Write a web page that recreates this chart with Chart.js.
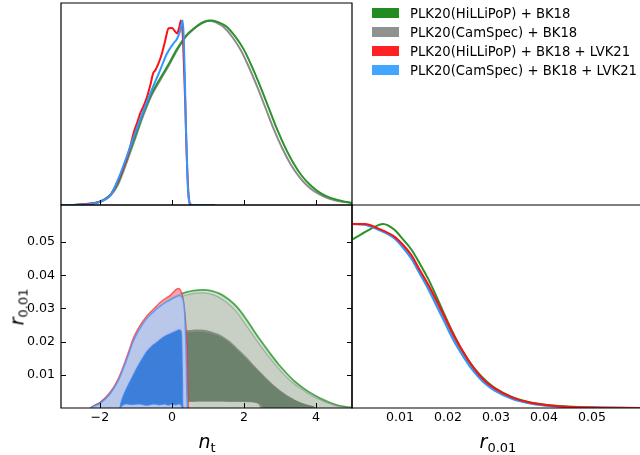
<!DOCTYPE html>
<html><head><meta charset="utf-8">
<script src="https://cdn.jsdelivr.net/npm/chart.js@4.4.1/dist/chart.umd.min.js"></script>
<style>
html,body{margin:0;padding:0;background:#fff;}
#wrap{position:relative;width:640px;height:455px;overflow:hidden;font-family:'DejaVu Sans',sans-serif;color:#000;}
canvas{position:absolute;left:0;top:0;}
.lab{position:absolute;white-space:nowrap;font-size:19px;line-height:1;}
.lab i{font-style:italic;}
.lab .sb{font-size:13px;position:relative;top:4px;}
.legrow{position:absolute;left:372px;height:19px;display:flex;align-items:center;font-size:13.2px;white-space:nowrap;}
.legrow .pt{width:27px;height:10px;margin-right:11px;}
</style></head>
<body>
<div id="wrap">
<canvas id="cTL" width="640" height="455"></canvas>
<canvas id="cBL" width="640" height="455"></canvas>
<canvas id="cBR" width="640" height="455"></canvas>
<div class="lab" style="left:207px;top:441px;transform:translate(-50%,-50%)"><i>n</i><span class="sb">t</span></div>
<div class="lab" style="left:498px;top:441px;transform:translate(-50%,-50%)"><i>r</i><span class="sb">0.01</span></div>
<div class="lab" style="left:17px;top:307px;transform:translate(-50%,-50%) rotate(-90deg)"><i>r</i><span class="sb">0.01</span></div>
</div>
<script>
// ---------- data ----------
const SERIES = ['PLK20(HiLLiPoP) + BK18', 'PLK20(CamSpec) + BK18', 'PLK20(HiLLiPoP) + BK18 + LVK21', 'PLK20(CamSpec) + BK18 + LVK21'];
const NT_TICKS = [-2, 0, 2, 4];
const R_TICKS = [0.01, 0.02, 0.03, 0.04, 0.05];

// 1D marginal of n_t  [n_t, P/Pmax]
const NT_HIL_BK = [[-3.08,0],[-2.6,0.002],[-2.2,0.008],[-1.9,0.028],[-1.7,0.058],[-1.5,0.12],[-1.25,0.25],[-1.0,0.385],[-0.79,0.5],[-0.55,0.61],[-0.33,0.685],[-0.1,0.76],[0.14,0.845],[0.4,0.92],[0.6,0.955],[0.85,0.988],[1.1,1.0],[1.3,0.99],[1.53,0.965],[1.75,0.915],[1.99,0.845],[2.2,0.76],[2.45,0.645],[2.7,0.52],[2.91,0.415],[3.15,0.31],[3.38,0.225],[3.6,0.16],[3.84,0.108],[4.05,0.074],[4.3,0.047],[4.6,0.027],[4.8,0.018],[5.0,0.012]];
const NT_CAM_BK = [[-3.08,0],[-2.6,0.002],[-2.2,0.007],[-1.9,0.025],[-1.7,0.052],[-1.5,0.11],[-1.25,0.235],[-1.0,0.372],[-0.79,0.488],[-0.55,0.6],[-0.33,0.675],[-0.1,0.752],[0.14,0.838],[0.4,0.915],[0.6,0.952],[0.8,0.985],[1.02,1.0],[1.22,0.99],[1.45,0.962],[1.67,0.912],[1.91,0.84],[2.12,0.755],[2.37,0.64],[2.62,0.515],[2.83,0.41],[3.07,0.305],[3.3,0.22],[3.52,0.157],[3.76,0.104],[3.97,0.072],[4.22,0.046],[4.52,0.026],[4.75,0.017],[5.0,0.011]];
const NT_HIL_BK_LVK = [[-3.08,0],[-2.6,0.002],[-2.2,0.01],[-1.99,0.018],[-1.71,0.054],[-1.53,0.118],[-1.43,0.16],[-1.34,0.208],[-1.25,0.255],[-1.16,0.316],[-1.05,0.4],[-0.97,0.443],[-0.88,0.497],[-0.79,0.535],[-0.69,0.587],[-0.6,0.65],[-0.52,0.715],[-0.46,0.73],[-0.4,0.755],[-0.33,0.79],[-0.28,0.82],[-0.2,0.88],[-0.09,0.958],[0.0,0.96],[0.07,0.945],[0.14,0.93],[0.2,0.96],[0.25,1.0],[0.3,0.92],[0.34,0.72],[0.37,0.55],[0.4,0.33],[0.43,0.17],[0.46,0.06],[0.5,0.005],[0.55,0],[0.7,0]];
const NT_CAM_BK_LVK = [[-3.08,0],[-2.6,0.002],[-2.2,0.007],[-1.9,0.026],[-1.7,0.055],[-1.43,0.17],[-1.25,0.265],[-1.06,0.37],[-0.79,0.51],[-0.6,0.605],[-0.33,0.73],[-0.14,0.82],[0.04,0.875],[0.14,0.9],[0.22,0.94],[0.3,1.0],[0.33,0.9],[0.36,0.68],[0.39,0.42],[0.42,0.22],[0.45,0.07],[0.49,0.012],[0.53,0.002],[0.6,0],[1.2,0]];

// 1D marginal of r_0.01  [r, P/Pmax]
const R_HIL_BK = [[0,0.915],[0.002,0.945],[0.004,0.975],[0.0065,1.0],[0.0089,0.967],[0.0105,0.92],[0.0124,0.86],[0.014,0.79],[0.0159,0.7],[0.0177,0.6],[0.0194,0.5],[0.021,0.41],[0.0228,0.32],[0.0245,0.25],[0.0263,0.19],[0.028,0.145],[0.0298,0.108],[0.0333,0.06],[0.0368,0.033],[0.0403,0.018],[0.044,0.009],[0.0472,0.005],[0.052,0.002],[0.06,0.0005]];
const R_CAM_BK = [[0,1.0],[0.0027,0.997],[0.0054,0.973],[0.0089,0.925],[0.0105,0.882],[0.0124,0.82],[0.014,0.745],[0.0159,0.657],[0.0177,0.565],[0.0194,0.475],[0.021,0.39],[0.0228,0.307],[0.0245,0.238],[0.0263,0.178],[0.028,0.133],[0.0298,0.099],[0.0333,0.054],[0.0368,0.028],[0.0403,0.014],[0.044,0.007],[0.0472,0.0035],[0.052,0.001],[0.06,0.0002]];
const R_HIL_BK_LVK = [[0,1.0],[0.0027,1.0],[0.0054,0.976],[0.0089,0.93],[0.0105,0.89],[0.0124,0.83],[0.014,0.755],[0.0159,0.67],[0.0177,0.58],[0.0194,0.49],[0.021,0.405],[0.0228,0.32],[0.0245,0.25],[0.0263,0.186],[0.028,0.14],[0.0298,0.105],[0.0333,0.058],[0.0368,0.031],[0.0403,0.016],[0.044,0.008],[0.0472,0.004],[0.052,0.0015],[0.06,0.0003]];
const R_CAM_BK_LVK = [[0,1.0],[0.0027,0.995],[0.0054,0.97],[0.0089,0.92],[0.0105,0.875],[0.0124,0.81],[0.014,0.735],[0.0159,0.645],[0.0177,0.55],[0.0194,0.46],[0.021,0.375],[0.0228,0.295],[0.0245,0.228],[0.0263,0.17],[0.028,0.126],[0.0298,0.093],[0.0333,0.05],[0.0368,0.026],[0.0403,0.013],[0.044,0.006],[0.0472,0.003],[0.052,0.001],[0.06,0.0002]];

// 2D contours (n_t, r_0.01), closed outlines; 95% (outer) and 68% (inner)
const C95_HIL_BK = [[-2.3,-0.0005],[-2.2,0.0003],[-1.95,0.002],[-1.71,0.0044],[-1.5,0.0078],[-1.34,0.0112],[-1.2,0.0152],[-1.07,0.0198],[-0.9,0.0234],[-0.69,0.0266],[-0.5,0.0287],[-0.33,0.0304],[-0.1,0.0325],[0.14,0.0339],[0.4,0.0349],[0.6,0.0354],[0.88,0.0356],[1.1,0.0353],[1.34,0.0344],[1.58,0.0327],[1.81,0.0304],[2.05,0.027],[2.27,0.0234],[2.5,0.0198],[2.73,0.0164],[2.96,0.0132],[3.19,0.0104],[3.42,0.0079],[3.66,0.0059],[3.9,0.0042],[4.12,0.0029],[4.35,0.0018],[4.58,0.0009],[4.8,0.0004],[5.0,0.0001],[5.1,-0.0005]];
const C95_CAM_BK = [[-2.3,-0.0005],[-2.18,0.0003],[-1.93,0.002],[-1.69,0.0043],[-1.48,0.0076],[-1.32,0.0109],[-1.18,0.0148],[-1.05,0.0192],[-0.88,0.0228],[-0.68,0.0259],[-0.5,0.0279],[-0.33,0.0296],[-0.1,0.0316],[0.14,0.033],[0.38,0.034],[0.58,0.0345],[0.84,0.0347],[1.05,0.0344],[1.28,0.0335],[1.52,0.0318],[1.75,0.0295],[1.98,0.0262],[2.2,0.0227],[2.43,0.0192],[2.66,0.0159],[2.89,0.0128],[3.12,0.01],[3.35,0.0076],[3.59,0.0057],[3.83,0.004],[4.05,0.0028],[4.28,0.0017],[4.52,0.0008],[4.75,0.0003],[4.95,0.0001],[5.1,-0.0005]];
const C68_HIL_BK = [[-1.45,0.0015],[-1.35,0.005],[-1.2,0.009],[-0.97,0.0125],[-0.69,0.016],[-0.42,0.0188],[-0.14,0.021],[0.14,0.0222],[0.46,0.0228],[0.7,0.023],[0.88,0.0229],[1.1,0.0224],[1.34,0.0215],[1.58,0.0198],[1.81,0.0175],[2.05,0.015],[2.27,0.0125],[2.5,0.01],[2.73,0.0075],[2.96,0.0054],[3.19,0.0036],[3.4,0.0024],[3.6,0.0015],[3.8,0.0008],[3.95,0.0004],[4.0,-0.0005],[2.6,-0.0005],[2.45,0.0012],[2.2,0.0019],[1.8,0.002],[1.3,0.0021],[0.8,0.0021],[0.4,0.002],[0,0.0018],[-0.5,0.0016],[-1.0,0.0015]];
const C68_CAM_BK = [[-1.45,0.0015],[-1.36,0.0055],[-1.2,0.0097],[-0.97,0.0132],[-0.69,0.0167],[-0.42,0.0195],[-0.14,0.0217],[0.14,0.0229],[0.46,0.0235],[0.7,0.0237],[0.88,0.0236],[1.1,0.0231],[1.34,0.0221],[1.58,0.0204],[1.81,0.0181],[2.05,0.0156],[2.27,0.013],[2.5,0.0104],[2.73,0.0079],[2.96,0.0057],[3.19,0.0039],[3.4,0.0026],[3.6,0.0016],[3.8,0.0009],[3.95,0.0004],[4.0,-0.0005],[2.5,-0.0005],[2.4,0.0012],[2.2,0.0017],[1.8,0.0018],[1.3,0.0019],[0.8,0.0019],[0.4,0.0018],[0,0.0016],[-0.5,0.0015],[-1.0,0.0014]];
const C95_HIL_BK_LVK = [[-2.3,-0.0005],[-2.2,0.0005],[-1.99,0.0016],[-1.71,0.0048],[-1.5,0.0086],[-1.34,0.0128],[-1.2,0.017],[-1.07,0.0211],[-0.9,0.0246],[-0.69,0.0278],[-0.5,0.0299],[-0.33,0.0318],[-0.15,0.0332],[-0.05,0.0339],[0.05,0.035],[0.14,0.0359],[0.2,0.036],[0.25,0.0352],[0.3,0.0334],[0.34,0.0305],[0.38,0.026],[0.41,0.0205],[0.43,0.014],[0.44,0.007],[0.45,0.002],[0.46,-0.0005]];
const C68_HIL_BK_LVK = [[-1.47,-0.0005],[-1.43,0.0018],[-1.36,0.0042],[-1.25,0.0068],[-1.1,0.0101],[-0.97,0.013],[-0.83,0.0156],[-0.69,0.018],[-0.55,0.0195],[-0.42,0.0205],[-0.24,0.0221],[-0.05,0.0231],[0.13,0.0241],[0.2,0.0244],[0.26,0.0242],[0.29,0.0226],[0.31,0.0185],[0.32,0.012],[0.33,0.006],[0.33,0.0015],[0.34,-0.0005],[0.3,0.0011],[0,0.001],[-0.5,0.001],[-1.0,0.0011],[-1.44,0.0003]];
const C95_CAM_BK_LVK = [[-2.3,-0.0005],[-2.2,0.0004],[-1.99,0.0014],[-1.71,0.0044],[-1.5,0.008],[-1.34,0.0122],[-1.2,0.0163],[-1.07,0.0202],[-0.9,0.0238],[-0.69,0.0271],[-0.5,0.0291],[-0.33,0.0307],[-0.15,0.032],[0.04,0.0331],[0.15,0.0337],[0.22,0.0339],[0.28,0.0334],[0.32,0.032],[0.35,0.029],[0.37,0.0244],[0.39,0.018],[0.4,0.0125],[0.41,0.006],[0.42,0.002],[0.43,-0.0005]];
const C68_CAM_BK_LVK = [[-1.45,-0.0005],[-1.42,0.0015],[-1.35,0.0038],[-1.25,0.0062],[-1.1,0.0094],[-0.97,0.0122],[-0.83,0.0148],[-0.69,0.0172],[-0.55,0.0188],[-0.42,0.0198],[-0.24,0.0214],[-0.05,0.0224],[0.13,0.0233],[0.2,0.0236],[0.25,0.0234],[0.27,0.022],[0.28,0.018],[0.29,0.012],[0.3,0.006],[0.3,0.0015],[0.31,-0.0005],[0.25,0.0009],[0.18,0.0012],[0.1,0.0009],[0,0.0012],[-0.1,0.0008],[-0.2,0.0012],[-0.35,0.0009],[-0.5,0.0012],[-0.7,0.0008],[-0.9,0.0012],[-1.1,0.001],[-1.3,0.0012],[-1.42,0.0003]];

// ---------- styles ----------
const LEG_COLORS = ['#228b22', '#919191', '#ff2222', '#42a5ff'];
const LINE_COLORS = ['#2a922a', '#8c8c8c', '#ff1010', '#2f97ff'];
const FONT = {family: "'DejaVu Sans', sans-serif", size: 12.6};

// legend (HTML)
const wrap = document.getElementById('wrap');
SERIES.forEach((name, i) => {
  const row = document.createElement('div');
  row.className = 'legrow';
  row.style.top = (3.5 + i * 19) + 'px';
  const p = document.createElement('div'); p.className = 'pt'; p.style.background = LEG_COLORS[i];
  const t = document.createElement('span'); t.textContent = name;
  row.appendChild(p); row.appendChild(t); wrap.appendChild(row);
});

const xy = a => a.map(([x, y]) => ({x, y}));
const fmtNt = v => (v < 0 ? '\u2212' + Math.abs(v) : String(v));
const fmtR = v => Number(v).toFixed(2);

const framePlugin = {
  id: 'frame',
  afterDatasetsDraw(chart, args, o) {
    const {ctx, chartArea: a} = chart;
    ctx.save();
    ctx.strokeStyle = '#000';
    ctx.lineWidth = 1;
    ctx.beginPath();
    for (const t of (o.ticks || [])) {
      const sc = chart.scales[t.axis];
      for (const v of t.values) {
        const p = Math.round(sc.getPixelForValue(v)) + 0.5;
        if (t.side === 'bottom') { ctx.moveTo(p, a.bottom); ctx.lineTo(p, a.bottom - 5); }
        else if (t.side === 'left') { ctx.moveTo(a.left, p); ctx.lineTo(a.left + 5, p); }
        else if (t.side === 'right') { ctx.moveTo(a.right, p); ctx.lineTo(a.right - 5, p); }
      }
    }
    ctx.stroke();
    ctx.lineWidth = 1.2;
    ctx.beginPath();
    const s = o.sides || [];
    if (s.includes('top')) { ctx.moveTo(a.left - 0.6, a.top); ctx.lineTo(a.right + 0.6, a.top); }
    if (s.includes('bottom')) { ctx.moveTo(a.left - 0.6, a.bottom); ctx.lineTo(a.right + 0.6, a.bottom); }
    if (s.includes('left')) { ctx.moveTo(a.left, a.top - 0.6); ctx.lineTo(a.left, a.bottom + 0.6); }
    if (s.includes('right')) { ctx.moveTo(a.right, a.top - 0.6); ctx.lineTo(a.right, a.bottom + 0.6); }
    ctx.stroke();
    ctx.restore();
  }
};

const hiddenAxis = (min, max) => ({type: 'linear', display: false, min, max});
const tickAxis = (min, max, pos, ticks, fmt, pad, size) => ({
  type: 'linear', display: true, position: pos, min, max,
  grid: {display: false, drawTicks: false},
  border: {display: false},
  ticks: {padding: pad, font: FONT, color: '#000', autoSkip: false, maxRotation: 0, callback: fmt},
  afterBuildTicks: sc => { sc.ticks = ticks.map(v => ({value: v})); },
  afterFit: sc => { if (pos === 'bottom') sc.height = size; else sc.width = size; }
});
const baseOpts = (padding, scales, frame) => ({
  responsive: false, maintainAspectRatio: false, devicePixelRatio: 1, animation: false, events: [],
  layout: {padding},
  plugins: {legend: {display: false}, tooltip: {enabled: false}, frame},
  scales
});

// line datasets (listed bottom -> top)
function lineSets(list) {
  return list.map(([data, color], i) => ({
    data: xy(data), borderColor: color, borderWidth: 2, pointRadius: 0, fill: false,
    cubicInterpolationMode: 'monotone', order: list.length - i
  }));
}

// ---- top-left: n_t marginal ----
new Chart(document.getElementById('cTL'), {
  type: 'line',
  data: {datasets: lineSets([
    [NT_CAM_BK, LINE_COLORS[1]], [NT_HIL_BK, LINE_COLORS[0]],
    [NT_HIL_BK_LVK, LINE_COLORS[2]], [NT_CAM_BK_LVK, LINE_COLORS[3]]
  ])},
  options: baseOpts({left: 61, top: 3, right: 288, bottom: 250},
    {x: hiddenAxis(-3.08, 5), y: hiddenAxis(0, 1.095)},
    {sides: ['top', 'bottom', 'left', 'right'], ticks: [{axis: 'x', side: 'bottom', values: NT_TICKS}]}),
  plugins: [framePlugin]
});

// ---- bottom-left: 2D contours ----
const contour = [
  [C95_HIL_BK, 'rgba(160,210,160,0.6)', 'rgba(34,139,34,0.75)', 1.8],
  [C95_CAM_BK, 'rgba(200,202,198,0.75)', 'rgba(120,120,120,0.45)', 1.2],
  [C68_HIL_BK, 'rgba(70,140,70,0.7)', 'rgba(0,0,0,0)', 0],
  [C68_CAM_BK, 'rgba(110,120,110,0.75)', 'rgba(0,0,0,0)', 0],
  [C95_HIL_BK_LVK, 'rgba(245,150,160,0.85)', 'rgba(255,40,40,0.7)', 1.5],
  [C68_HIL_BK_LVK, 'rgba(200,80,110,0.8)', 'rgba(255,60,60,0.5)', 1],
  [C95_CAM_BK_LVK, 'rgba(180,205,242,0.9)', 'rgba(70,150,255,0.8)', 1.5],
  [C68_CAM_BK_LVK, 'rgba(55,125,218,0.97)', 'rgba(60,140,255,0.8)', 1]
];
new Chart(document.getElementById('cBL'), {
  type: 'line',
  data: {datasets: contour.map(([d, bg, bc, bw], i) => ({
    data: xy(d), backgroundColor: bg, borderColor: bc, borderWidth: bw, pointRadius: 0,
    fill: 'shape', tension: 0.3, order: contour.length - i
  }))},
  options: baseOpts({left: 0, top: 205, right: 288, bottom: 0},
    {x: tickAxis(-3.08, 5, 'bottom', NT_TICKS, fmtNt, 2, 47),
     y: tickAxis(0, 0.0612, 'left', R_TICKS, fmtR, 6, 61)},
    {sides: ['top', 'bottom', 'left', 'right'], ticks: [
      {axis: 'x', side: 'bottom', values: NT_TICKS},
      {axis: 'y', side: 'left', values: R_TICKS},
      {axis: 'y', side: 'right', values: R_TICKS}]}),
  plugins: [framePlugin]
});

// ---- bottom-right: r marginal ----
new Chart(document.getElementById('cBR'), {
  type: 'line',
  data: {datasets: lineSets([
    [R_CAM_BK, LINE_COLORS[1]], [R_HIL_BK, LINE_COLORS[0]],
    [R_CAM_BK_LVK, LINE_COLORS[3]], [R_HIL_BK_LVK, LINE_COLORS[2]]
  ])},
  options: baseOpts({left: 352, top: 205, right: 0, bottom: 0},
    {x: tickAxis(0, 0.06, 'bottom', R_TICKS, fmtR, 2, 47), y: hiddenAxis(0, 1.103)},
    {sides: ['top', 'bottom', 'left'], ticks: []}),
  plugins: [framePlugin]
});
</script>
</body></html>
